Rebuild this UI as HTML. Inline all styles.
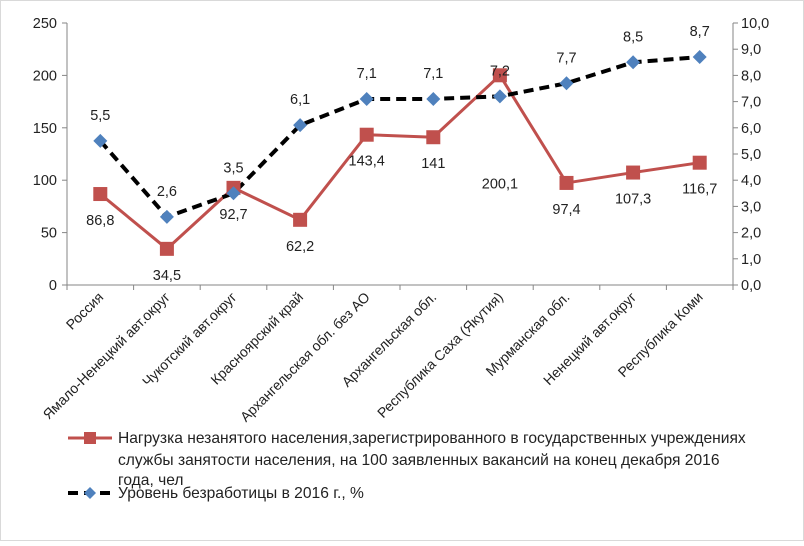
<!DOCTYPE html>
<html><head><meta charset="utf-8"><style>
body{margin:0;background:#fff;}
svg{font-family:"Liberation Sans",sans-serif;}
</style></head><body>
<svg width="804" height="541">
<rect x="0.5" y="0.5" width="803" height="540" fill="#fff" stroke="#d9d9d9"/>
<g id="axes"></g><g id="series"></g>
<g>
<line x1="68" y1="438" x2="112" y2="438" stroke="#c0504d" stroke-width="3"/>
<rect x="84" y="432" width="12" height="12" fill="#c0504d"/>
<text x="118" y="443" font-size="15.6" fill="#222">Нагрузка незанятого населения,зарегистрированного в государственных учреждениях</text>
<text x="118" y="465" font-size="15.6" fill="#222">службы занятости населения, на 100 заявленных вакансий на конец декабря 2016</text>
<text x="118" y="485" font-size="15.6" fill="#222">года, чел</text>
<line x1="68" y1="493" x2="112" y2="493" stroke="#000" stroke-width="4" stroke-dasharray="10,6"/>
<path d="M90 487 L96 493 L90 499 L84 493 Z" fill="#4f81bd"/>
<text x="118" y="498" font-size="15.6" fill="#222">Уровень безработицы в 2016 г., %</text>
</g>
</svg>
<script>
const categories=["Россия","Ямало-Ненецкий авт.округ","Чукотский авт.округ","Красноярский край","Архангельская обл. без АО","Архангельская обл.","Республика Саха (Якутия)","Мурманская обл.","Ненецкий авт.округ","Республика Коми"];
const loadValues=[86.8,34.5,92.7,62.2,143.4,141,200.1,97.4,107.3,116.7];
const loadLabels=["86,8","34,5","92,7","62,2","143,4","141","200,1","97,4","107,3","116,7"];
const unempValues=[5.5,2.6,3.5,6.1,7.1,7.1,7.2,7.7,8.5,8.7];
const unempLabels=["5,5","2,6","3,5","6,1","7,1","7,1","7,2","7,7","8,5","8,7"];
const leftTicks=[0,50,100,150,200,250];
const rightTicks=["0,0","1,0","2,0","3,0","4,0","5,0","6,0","7,0","8,0","9,0","10,0"];
const NS="http://www.w3.org/2000/svg";
const X0=67,X1=733,Y0=285,Y1=23;
const step=(X1-X0)/categories.length;
const xc=i=>X0+step*(i+0.5);
const yL=v=>Y0-(v/250)*(Y0-Y1);
const yR=v=>Y0-(v/10)*(Y0-Y1);
function mk(tag,attrs,parent){const e=document.createElementNS(NS,tag);for(const k in attrs)e.setAttribute(k,attrs[k]);parent.appendChild(e);return e;}
const ax=document.getElementById('axes'),se=document.getElementById('series');
let l=mk('line',{x1:X0,y1:Y1,x2:X0,y2:Y0,stroke:'#868686'},ax);


l=mk('line',{x1:X1,y1:Y1,x2:X1,y2:Y0,stroke:'#868686'},ax);


l=mk('line',{x1:X0,y1:Y0,x2:X1,y2:Y0,stroke:'#868686'},ax);


leftTicks.forEach(v=>{const y=yL(v);
 mk('line',{x1:X0-5,y1:y,x2:X0,y2:y,stroke:'#868686'},ax);
 const t=mk('text',{x:X0-10,y:y+5,'text-anchor':'end','font-size':14.5,fill:'#222'},ax);t.textContent=v;
 
 });
rightTicks.forEach((s,i)=>{const y=yR(i);
 mk('line',{x1:X1,y1:y,x2:X1+5,y2:y,stroke:'#868686'},ax);
 const t=mk('text',{x:X1+8,y:y+5,'font-size':14.5,fill:'#222'},ax);t.textContent=s;
 
 });
for(let i=0;i<=categories.length;i++){const x=X0+step*i;mk('line',{x1:x,y1:Y0,x2:x,y2:Y0+5,stroke:'#868686'},ax);}
categories.forEach((c,i)=>{const x=xc(i)+4,y=298;
 const t=mk('text',{x:x,y:y,'text-anchor':'end','font-size':14,fill:'#222',transform:`rotate(-45 ${x} ${y})`},ax);t.textContent=c;
 
 });
let p=mk('polyline',{points:loadValues.map((v,i)=>xc(i)+','+yL(v)).join(' '),fill:'none',stroke:'#c0504d','stroke-width':3},se);


p=mk('polyline',{points:unempValues.map((v,i)=>xc(i)+','+yR(v)).join(' '),fill:'none',stroke:'#000','stroke-width':4,'stroke-dasharray':'10,6'},se);


loadValues.forEach((v,i)=>{const x=xc(i),y=yL(v);
 const r=mk('rect',{x:x-7,y:y-7,width:14,height:14,fill:'#c0504d'},se);
 
 
 const ly=i===6?y+113:y+31;
 const t=mk('text',{x:x,y:ly,'text-anchor':'middle','font-size':14.5,fill:'#222'},se);t.textContent=loadLabels[i];
 
 });
unempValues.forEach((v,i)=>{const x=xc(i),y=yR(v);
 const d=mk('path',{d:`M${x} ${y-7} L${x+7} ${y} L${x} ${y+7} L${x-7} ${y} Z`,fill:'#4f81bd'},se);
 
 
 const t=mk('text',{x:x,y:y-21,'text-anchor':'middle','font-size':14.5,fill:'#222'},se);t.textContent=unempLabels[i];
 
 });
</script>
</body></html>
